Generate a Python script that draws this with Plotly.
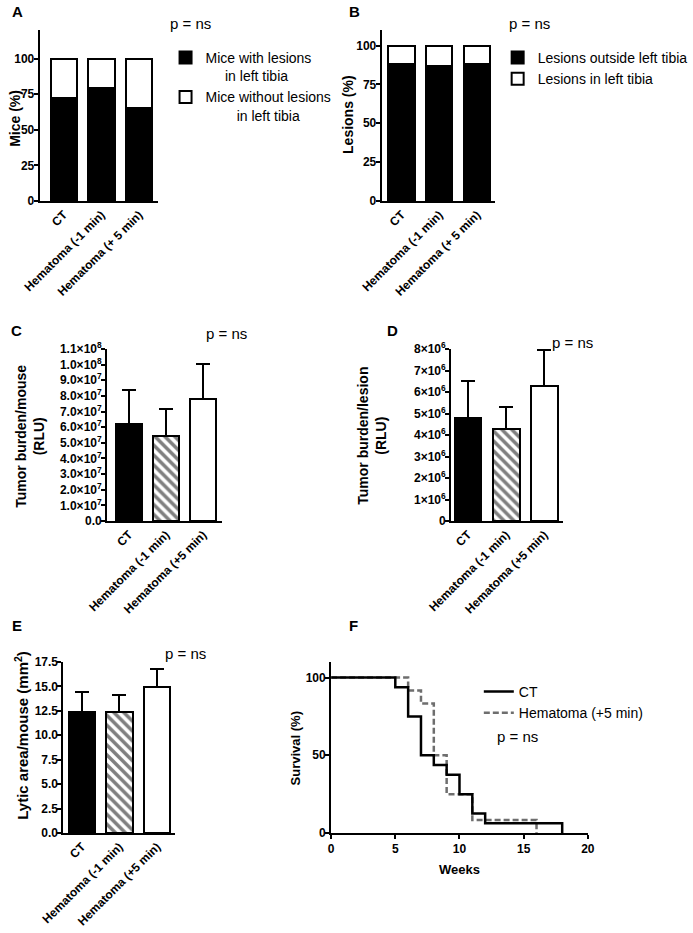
import plotly.graph_objects as go

W, H = 693, 933
FONT = "Liberation Sans, Arial, sans-serif"

# ---- data ----
groups_ab = ["CT", "Hematoma (-1 min)", "Hematoma (+ 5 min)"]
groups_cde = ["CT", "Hematoma (-1 min)", "Hematoma (+5 min)"]

mice_with_lesions = [72, 79, 65]
mice_without_lesions = [28, 21, 35]

lesions_outside = [88, 87, 88]
lesions_in_tibia = [12, 13, 12]

burden_mouse = [6.2e7, 5.45e7, 7.8e7]
burden_mouse_sem = [2.2e7, 1.7e7, 2.25e7]

burden_lesion = [4.8e6, 4.3e6, 6.3e6]
burden_lesion_sem = [1.7e6, 1.0e6, 1.65e6]

lytic_area = [12.35, 12.4, 14.95]
lytic_area_sem = [2.05, 1.7, 1.85]

ct_weeks = [0, 5, 6, 7, 8, 9, 10, 11, 12, 18]
ct_survival = [100, 93.75, 75, 50, 43.75, 37.5, 25, 12.5, 6.25, 0]
hem_weeks = [0, 6, 7, 8, 9, 11, 16]
hem_survival = [100, 91.67, 83.33, 50, 25, 8.33, 0]

c_ticks = [i * 1e7 for i in range(12)]
c_ticktext = ["0.0"] + [f"{i:.1f}×10<sup>7</sup>" for i in range(1, 10)] + ["1.0×10<sup>8</sup>", "1.1×10<sup>8</sup>"]
d_ticks = [i * 1e6 for i in range(9)]
d_ticktext = ["0"] + [f"{i}×10<sup>6</sup>" for i in range(1, 9)]

bar_fill = ["black", "white", "white"]
bar_hatch = ["", "\\", ""]


def px(x):
    return x / W


def py(y):
    return 1 - y / H


TICKFONT = dict(family=FONT, size=12, color="black", weight="bold")


def y_axis(anchor, top, bottom, rng, **kw):
    return dict(domain=[py(bottom), py(top)], anchor=anchor, range=rng,
                showline=True, linecolor="black", linewidth=2,
                ticks="outside", ticklen=4, tickwidth=2, tickcolor="black",
                ticklabelstandoff=-3,
                showgrid=False, zeroline=False, tickfont=TICKFONT, **kw)


def cat_axis(anchor, left, right, rng, cats):
    return dict(domain=[px(left), px(right)], anchor=anchor, range=rng,
                type="category", categoryorder="array", categoryarray=cats,
                showline=True, linecolor="black", linewidth=2,
                ticks="", tickangle=-45, showgrid=False, zeroline=False,
                tickfont=TICKFONT)


fig = go.Figure()

# A: stacked mice (%)
nb = "\u00a0"
fig.add_trace(go.Bar(x=groups_ab, y=mice_with_lesions, name="Mice with lesions<br>" + nb * 5 + "in left tibia",
                     marker=dict(color="black", line=dict(color="black", width=2)),
                     width=0.7, xaxis="x", yaxis="y", legend="legend"))
fig.add_trace(go.Bar(x=groups_ab, y=mice_without_lesions, name="Mice without lesions<br>" + nb * 8 + "in left tibia",
                     marker=dict(color="white", line=dict(color="black", width=2)),
                     width=0.7, xaxis="x", yaxis="y", legend="legend"))

# B: stacked lesions (%)
fig.add_trace(go.Bar(x=groups_ab, y=lesions_outside, name="Lesions outside left tibia",
                     marker=dict(color="black", line=dict(color="black", width=2)),
                     width=0.7, xaxis="x2", yaxis="y2", legend="legend2"))
fig.add_trace(go.Bar(x=groups_ab, y=lesions_in_tibia, name="Lesions in left tibia",
                     marker=dict(color="white", line=dict(color="black", width=2)),
                     width=0.7, xaxis="x2", yaxis="y2", legend="legend2"))

# C, D, E: mean + SEM bars, one trace per group so the hatch is set per bar
for vals, sem, xa, ya in [(burden_mouse, burden_mouse_sem, "x3", "y3"),
                          (burden_lesion, burden_lesion_sem, "x4", "y4"),
                          (lytic_area, lytic_area_sem, "x5", "y5")]:
    for i, g in enumerate(groups_cde):
        pattern = dict(shape=bar_hatch[i], fgcolor="black", bgcolor="white",
                       size=7, solidity=0.5, fillmode="overlay") if bar_hatch[i] else None
        fig.add_trace(go.Bar(
            x=[g], y=[vals[i]], width=0.7, xaxis=xa, yaxis=ya, showlegend=False,
            marker=dict(color=bar_fill[i], line=dict(color="black", width=2),
                        pattern=pattern),
            error_y=dict(type="data", array=[sem[i]], arrayminus=[0], symmetric=False,
                         color="black", thickness=2, width=7),
        ))

# F: survival (hematoma first so CT sits on top)
fig.add_trace(go.Scatter(x=hem_weeks, y=hem_survival, name="Hematoma (+5 min)", mode="lines",
                         line=dict(color="#6e6e6e", width=2.5, shape="hv", dash="6px,3px"),
                         xaxis="x6", yaxis="y6", legend="legend3"))
fig.add_trace(go.Scatter(x=ct_weeks, y=ct_survival, name="CT", mode="lines",
                         line=dict(color="black", width=2.5, shape="hv"),
                         xaxis="x6", yaxis="y6", legend="legend3"))

annotations = []


def note(text, x, y, size=15, bold=False, angle=0):
    annotations.append(dict(text=text, x=px(x), y=py(y), xref="paper", yref="paper",
                            showarrow=False, xanchor="center", yanchor="middle",
                            textangle=angle,
                            font=dict(family=FONT, size=size, color="black",
                                      weight="bold" if bold else "normal")))


for letter, x, y in [("A", 18, 11), ("B", 358, 11), ("C", 17, 330),
                     ("D", 396, 330), ("E", 17, 625), ("F", 357, 625)]:
    note(letter, x, y, size=15, bold=True)

for x, y in [(192, 23), (534, 23), (228, 333), (577, 342), (187, 653), (522, 736)]:
    note("p = ns", x, y, size=15)

note("Mice (%)", 15, 118, size=14, bold=True, angle=-90)
note("Lesions (%)", 351, 114, size=14, bold=True, angle=-90)
note("Tumor burden/mouse<br>(RLU)", 30, 436, size=14, bold=True, angle=-90)
note("Tumor burden/lesion<br>(RLU)", 375, 436, size=14, bold=True, angle=-90)
note("Lytic area/mouse (mm<sup>2</sup>)", 21, 735, size=15, bold=True, angle=-90)
note("Survival (%)", 298, 748, size=13, bold=True, angle=-90)
note("Weeks", 464, 869, size=13, bold=True)

legend_common = dict(font=dict(family=FONT, size=14, color="black"),
                     bgcolor="rgba(0,0,0,0)", xanchor="left", yanchor="top")

fig.update_layout(
    width=W, height=H, template="none",
    paper_bgcolor="white", plot_bgcolor="white",
    margin=dict(l=0, r=0, t=0, b=0),
    barmode="stack",
    font=dict(family=FONT, color="black"),
    annotations=annotations,
    legend=dict(x=px(167), y=py(42), valign="top", traceorder="normal", **legend_common),
    legend2=dict(x=px(502), y=py(42), traceorder="normal", **legend_common),
    legend3=dict(x=px(483), y=py(676), traceorder="reversed", **legend_common),
    xaxis=cat_axis("y", 40, 159, [-0.64, 2.49], groups_ab),
    yaxis=y_axis("x", 30, 201, [0, 120], tickvals=[0, 25, 50, 75, 100]),
    xaxis2=cat_axis("y2", 385, 499, [-0.53, 2.47], groups_ab),
    yaxis2=y_axis("x2", 30, 201, [0, 110], tickvals=[0, 25, 50, 75, 100]),
    xaxis3=cat_axis("y3", 108, 224, [-0.59, 2.51], groups_cde),
    yaxis3=y_axis("x3", 349, 521, [0, 1.1e8], tickvals=c_ticks, ticktext=c_ticktext),
    xaxis4=cat_axis("y4", 455, 568, [-0.44, 2.49], groups_cde),
    yaxis4=y_axis("x4", 349, 521, [0, 8e6], tickvals=d_ticks, ticktext=d_ticktext),
    xaxis5=cat_axis("y5", 64, 177, [-0.49, 2.49], groups_cde),
    yaxis5=y_axis("x5", 662, 833, [0, 17.5], tickvals=[i * 2.5 for i in range(8)], tickformat=".1f"),
    xaxis6=dict(domain=[px(334), px(593)], anchor="y6", range=[0, 20],
                tickvals=[0, 5, 10, 15, 20], showline=True, linecolor="black", linewidth=2,
                ticks="outside", ticklen=4, tickwidth=2, tickcolor="black",
                showgrid=False, zeroline=False, tickfont=TICKFONT),
    yaxis6=y_axis("x6", 662, 833, [0, 110], tickvals=[0, 50, 100]),
)

# the browser's default 8px body margin would shift the whole figure
fig.write_html("out.html", config={"displayModeBar": False},
               post_script="document.body.style.margin='0';")
